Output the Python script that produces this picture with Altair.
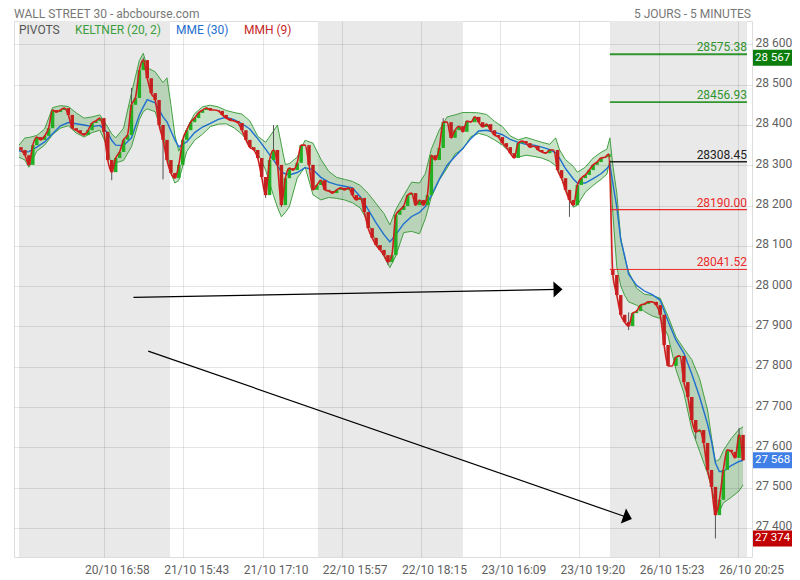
import altair as alt
import pandas as pd

# ---------------- data ----------------
close = [28338, 28325, 28301, 28350, 28370, 28363, 28373, 28392, 28437, 28432,
         28437, 28442, 28425, 28392, 28387, 28380, 28375, 28387, 28405, 28410,
         28417, 28383, 28313, 28283, 28318, 28333, 28363, 28375, 28450, 28467,
         28536, 28561, 28516, 28479, 28462, 28400, 28363, 28313, 28281, 28268,
         28301, 28363, 28387, 28407, 28417, 28430, 28437, 28442, 28437, 28437,
         28435, 28425, 28417, 28412, 28410, 28405, 28387, 28363, 28345, 28338,
         28318, 28271, 28226, 28313, 28338, 28301, 28201, 28268, 28293, 28288,
         28306, 28350, 28350, 28301, 28239, 28251, 28263, 28239, 28236, 28231,
         28239, 28244, 28239, 28244, 28226, 28214, 28219, 28184, 28144, 28120,
         28102, 28090, 28077, 28060, 28077, 28177, 28189, 28199, 28226, 28231,
         28201, 28214, 28201, 28226, 28325, 28313, 28343, 28407, 28407, 28368,
         28387, 28397, 28383, 28410, 28407, 28420, 28407, 28395, 28402, 28387,
         28375, 28370, 28355, 28345, 28330, 28318, 28355, 28360, 28355, 28345,
         28348, 28338, 28333, 28330, 28338, 28338, 28288, 28268, 28239, 28214,
         28201, 28251, 28268, 28276, 28288, 28301, 28308, 28318, 28320, 28328,
         28028, 27978, 27929, 27911, 27901, 27933, 27938, 27953, 27956, 27961,
         27961, 27953, 27929, 27854, 27802, 27802, 27824, 27827, 27762, 27725,
         27668, 27638, 27643, 27611, 27544, 27502, 27432, 27470, 27544, 27594,
         27589, 27574, 27631, 27568]
first_open = 28345
gap_open_bar = 150
gap_open_value = 28040

wick_i = [23, 28, 31, 36, 62, 64, 66, 93, 107, 139, 154, 171, 176, 182]
wick_hi = [28300, 28492, 28567, 28370, 28240, 28400, 28268, 28075, 28417, 28225, 27935, 27660, 27470, 27648]
wick_lo = [28263, 28440, 28540, 28265, 28219, 28330, 28196, 28053, 28390, 28172, 27891, 27620, 27374, 27600]

band_idx = [-0.5, 1, 2, 4, 6, 8, 10, 12, 14, 16,
            18, 20, 22, 23, 24, 26, 28, 30, 31, 32,
            34, 36, 37, 38, 39, 40, 42, 44, 46, 48,
            50, 52, 54, 56, 58, 60, 62, 64, 65, 66,
            67, 68, 70, 72, 74, 76, 78, 80, 82, 84,
            86, 88, 90, 92, 93.5, 95, 97, 99, 101, 102.5,
            104, 106, 108, 110, 112, 114, 116, 118, 120, 122,
            124, 126, 128, 130, 132, 134, 135.5, 136.5, 138, 140,
            141, 143, 145, 147, 148.5, 149.25, 150, 151, 152, 153,
            154, 156, 158, 160, 162, 164, 166, 168, 170, 172,
            174, 175, 176, 177, 178, 180, 182, 183]
band_up = [28350, 28368, 28369, 28374, 28390, 28443, 28448, 28446, 28430, 28417,
           28420, 28425, 28395, 28378, 28368, 28392, 28479, 28560, 28578, 28542,
           28532, 28505, 28517, 28450, 28375, 28335, 28390, 28428, 28445, 28449,
           28445, 28436, 28431, 28427, 28410, 28372, 28357, 28385, 28400, 28350,
           28302, 28304, 28320, 28362, 28355, 28315, 28285, 28270, 28265, 28260,
           28250, 28230, 28205, 28180, 28152, 28190, 28225, 28258, 28256, 28280,
           28340, 28387, 28420, 28425, 28431, 28431, 28430, 28426, 28409, 28396,
           28373, 28363, 28369, 28363, 28357, 28352, 28368, 28338, 28314, 28297,
           28283, 28295, 28318, 28332, 28340, 28368, 28300, 28231, 28120, 28070,
           28036, 27995, 27980, 27977, 27970, 27925, 27874, 27845, 27818, 27770,
           27693, 27625, 27565, 27570, 27592, 27622, 27645, 27651]
band_lo = [28320, 28313, 28295, 28335, 28350, 28376, 28392, 28398, 28380, 28370,
           28381, 28387, 28344, 28292, 28306, 28312, 28346, 28413, 28433, 28440,
           28433, 28375, 28330, 28280, 28256, 28262, 28334, 28362, 28377, 28396,
           28402, 28403, 28393, 28377, 28352, 28330, 28288, 28225, 28196, 28172,
           28183, 28197, 28268, 28296, 28227, 28214, 28220, 28218, 28214, 28207,
           28194, 28158, 28109, 28073, 28046, 28075, 28133, 28136, 28130, 28168,
           28221, 28263, 28293, 28328, 28340, 28371, 28379, 28374, 28363, 28350,
           28332, 28320, 28325, 28322, 28318, 28310, 28299, 28281, 28240, 28196,
           28201, 28233, 28250, 28265, 28278, 28313, 28180, 28048, 28001, 27977,
           27961, 27953, 27937, 27926, 27920, 27876, 27793, 27735, 27645, 27590,
           27536, 27500, 27458, 27440, 27462, 27476, 27492, 27507]
mme = [28336, 28333, 28334, 28345, 28358, 28378, 28398, 28406, 28403, 28400,
       28396, 28399, 28380, 28362, 28350, 28349, 28368, 28425, 28445, 28463,
       28455, 28420, 28408, 28385, 28363, 28346, 28358, 28381, 28395, 28404,
       28414, 28419, 28413, 28403, 28390, 28366, 28340, 28313, 28300, 28283,
       28279, 28276, 28282, 28294, 28289, 28270, 28258, 28252, 28248, 28244,
       28222, 28190, 28157, 28128, 28110, 28128, 28155, 28173, 28183, 28198,
       28225, 28265, 28300, 28322, 28342, 28366, 28385, 28387, 28382, 28376,
       28364, 28357, 28352, 28350, 28345, 28339, 28331, 28317, 28292, 28266,
       28256, 28256, 28267, 28279, 28292, 28301, 28255, 28196, 28115, 28075,
       28030, 28002, 27988, 27979, 27965, 27913, 27866, 27834, 27782, 27725,
       27658, 27615, 27561, 27540, 27540, 27555, 27565, 27568]

day_start = [-0.5, 37.75, 75.25, 112, 149.25]
day_end = [37.75, 75.25, 112, 149.25, 184]
day_shaded = [1, 0, 1, 0, 1]

tick_pos = [21, 41.125, 61.25, 81.25, 101.375, 121.5, 141.5, 161.625, 181.75]
tick_lab = ["20/10 16:58", "21/10 15:43", "21/10 17:10", "22/10 15:57", "22/10 18:15",
            "23/10 16:09", "23/10 19:20", "26/10 15:23", "26/10 20:25"]
y_ticks = [27400, 27500, 27600, 27700, 27800, 27900, 28000, 28100, 28200, 28300, 28400, 28500, 28600]

pivot_names = ["R2", "R1", "P", "S1", "S2"]
pivot_values = [28575.38, 28456.93, 28308.45, 28190.00, 28041.52]
pivot_start = 149.25
pivot_end = 184

tag_names = ["high", "last", "low"]
tag_values = [28567, 27568, 27374]

arrow_x0 = [28.5, 32.25]
arrow_y0 = [27972, 27839]
arrow_x1 = [136.1, 153.75]
arrow_y1 = [27992, 27426]

# ---------------- styles ----------------
pivot_colors = ["#2f962f", "#2f962f", "#222222", "#ee2a2a", "#ee2a2a"]
pivot_widths = [2, 1, 1, 1.5, 2.5]
tag_colors = ["#0b7d0b", "#3f7fe6", "#c10000"]
arrow_angles = [359, 19]

# ---------------- frames ----------------
opens = [first_open] + close[:-1]
opens[gap_open_bar] = gap_open_value
candles = pd.DataFrame({"i": list(range(len(close))), "o": opens, "c": close})
candles["dir"] = ["up" if c >= o else "down" for o, c in zip(candles.o, candles.c)]
wicks = pd.DataFrame({"i": wick_i, "hi": wick_hi, "lo": wick_lo})
band = pd.DataFrame({"i": band_idx, "up": band_up, "lo": band_lo, "mme": mme})
days = pd.DataFrame({"s": day_start, "e": day_end, "sh": day_shaded})
days = days[days.sh == 1]
piv = pd.DataFrame({"name": pivot_names, "v": pivot_values, "s": pivot_start, "e": pivot_end})
tags = pd.DataFrame({"name": tag_names, "v": tag_values})
arrows = pd.DataFrame({"x0": arrow_x0, "y0": arrow_y0, "x1": arrow_x1, "y1": arrow_y1})

# ---------------- scales / axes ----------------
xs = alt.Scale(domain=[-0.5, 184], nice=False, zero=False)
ys = alt.Scale(domain=[27328, 28658], nice=False, zero=False)
lab_expr = " : ".join(f"datum.value == {p} ? '{l}'" for p, l in zip(tick_pos, tick_lab)) + " : ''"
xaxis = alt.Axis(values=tick_pos, labelExpr=lab_expr, title=None, grid=True, gridColor="#000000",
                 gridOpacity=0.1, ticks=False, domain=False, labelOffset=13, labelPadding=7,
                 labelFontSize=12, labelColor="#5f5f5f", labelFlush=False, labelOverlap=False, zindex=1)
yaxis = alt.Axis(values=y_ticks, labelExpr="replace(format(datum.value, ',d'), ',', ' ')",
                 orient="right", title=None, grid=True, gridColor="#000000", gridOpacity=0.1,
                 ticks=False, domain=False, labelPadding=3, labelFontSize=12, labelColor="#5f5f5f",
                 labelOffset=-2, labelFlush=False, zindex=1)


def X(f):
    return alt.X(f, type="quantitative", scale=xs, axis=xaxis)


def Y(f):
    return alt.Y(f, type="quantitative", scale=ys, axis=yaxis)


one = alt.Data(values=[{"k": 0}])

bg = alt.Chart(days).mark_rect(color="#e9e9e9").encode(
    x=X("s"), x2="e", y=alt.value(0), y2=alt.value(536))

band_area = alt.Chart(band).mark_area(color="#3a9a3a", opacity=0.28).encode(x=X("i"), y=Y("up"), y2="lo")
band_upl = alt.Chart(band).mark_line(color="#43a043", strokeWidth=1).encode(x=X("i"), y=Y("up"))
band_lol = alt.Chart(band).mark_line(color="#43a043", strokeWidth=1).encode(x=X("i"), y=Y("lo"))
mme_line = alt.Chart(band).mark_line(color="#1f6fd1", strokeWidth=1.4).encode(x=X("i"), y=Y("mme"))

wick_l = alt.Chart(wicks).mark_rule(color="#555555", strokeWidth=1).encode(x=X("i"), y=Y("hi"), y2="lo")
body = alt.Chart(candles).mark_bar(size=3.5).encode(
    x=X("i"), y=Y("o"), y2="c",
    color=alt.Color("dir:N", scale=alt.Scale(domain=["up", "down"], range=["#22b022", "#c42020"]), legend=None))
mmh = alt.Chart(candles).mark_line(color="#d01e1e", strokeWidth=1.6, interpolate="monotone").encode(
    x=X("i"), y=Y("c"))

piv_rule = alt.Chart(piv).mark_rule().encode(
    x=X("s"), x2="e", y=Y("v"),
    color=alt.Color("name:N", scale=alt.Scale(domain=pivot_names, range=pivot_colors), legend=None),
    strokeWidth=alt.StrokeWidth("name:N", scale=alt.Scale(domain=pivot_names, range=pivot_widths), legend=None))
piv_text = alt.Chart(piv).transform_calculate(lbl="format(datum.v, '.2f')").mark_text(
    align="right", baseline="alphabetic", dy=-3, fontSize=12).encode(
    x=X("e"), y=Y("v"), text="lbl:N",
    color=alt.Color("name:N", scale=alt.Scale(domain=pivot_names, range=pivot_colors), legend=None))

arr_lines = alt.Chart(arrows).mark_rule(color="#000000", strokeWidth=1.2).encode(
    x=X("x0"), y=Y("y0"), x2="x1", y2="y1")
heads = []
for k in range(len(arrow_x1)):
    heads.append(alt.Chart(arrows.iloc[[k]]).mark_point(
        shape="M-0.56,-1L0.56,0L-0.56,1Z", filled=True, size=256, color="#000000", opacity=1,
        angle=arrow_angles[k]).encode(x=X("x1"), y=Y("y1")))

tag_box = alt.Chart(tags).mark_tick(orient="horizontal", thickness=16, size=46, opacity=1).encode(
    x=alt.value(762), y=Y("v"),
    color=alt.Color("name:N", scale=alt.Scale(domain=tag_names, range=tag_colors), legend=None))
tag_txt = alt.Chart(tags).transform_calculate(
    lbl="replace(format(datum.v, ',d'), ',', ' ')").mark_text(
    align="left", baseline="middle", color="#ffffff", fontSize=11.5).encode(
    x=alt.value(741), y=Y("v"), text="lbl:N")


def label(txt, px, py, color, align="left", size=12):
    return alt.Chart(one).mark_text(text=txt, align=align, baseline="alphabetic", color=color,
                                    fontSize=size).encode(x=alt.value(px), y=alt.value(py))


texts = [
    label("WALL STREET 30 - abcbourse.com", 0, -3, "#777777"),
    label("5 JOURS - 5 MINUTES", 737, -3, "#777777", align="right"),
    label("PIVOTS", 5, 12.5, "#555555"),
    label("KELTNER (20, 2)", 61, 12.5, "#3a9e3a"),
    label("MME (30)", 162, 12.5, "#1f6fd1"),
    label("MMH (9)", 230, 12.5, "#c62828"),
]

chart = alt.layer(bg, band_area, band_upl, band_lol, mme_line, wick_l, body, mmh,
                  piv_rule, piv_text, arr_lines, *heads, tag_box, tag_txt, *texts).resolve_scale(
    color="independent", strokeWidth="independent").properties(
    width=738, height=536,
    autosize=alt.AutoSizeParams(type="none"),
    padding={"left": 6, "top": 13, "right": 40, "bottom": 20},
).configure_view(stroke="#d9d9d9").configure(font="Roboto")

chart.save("out.html", embed_options={"renderer": "svg", "actions": False})
